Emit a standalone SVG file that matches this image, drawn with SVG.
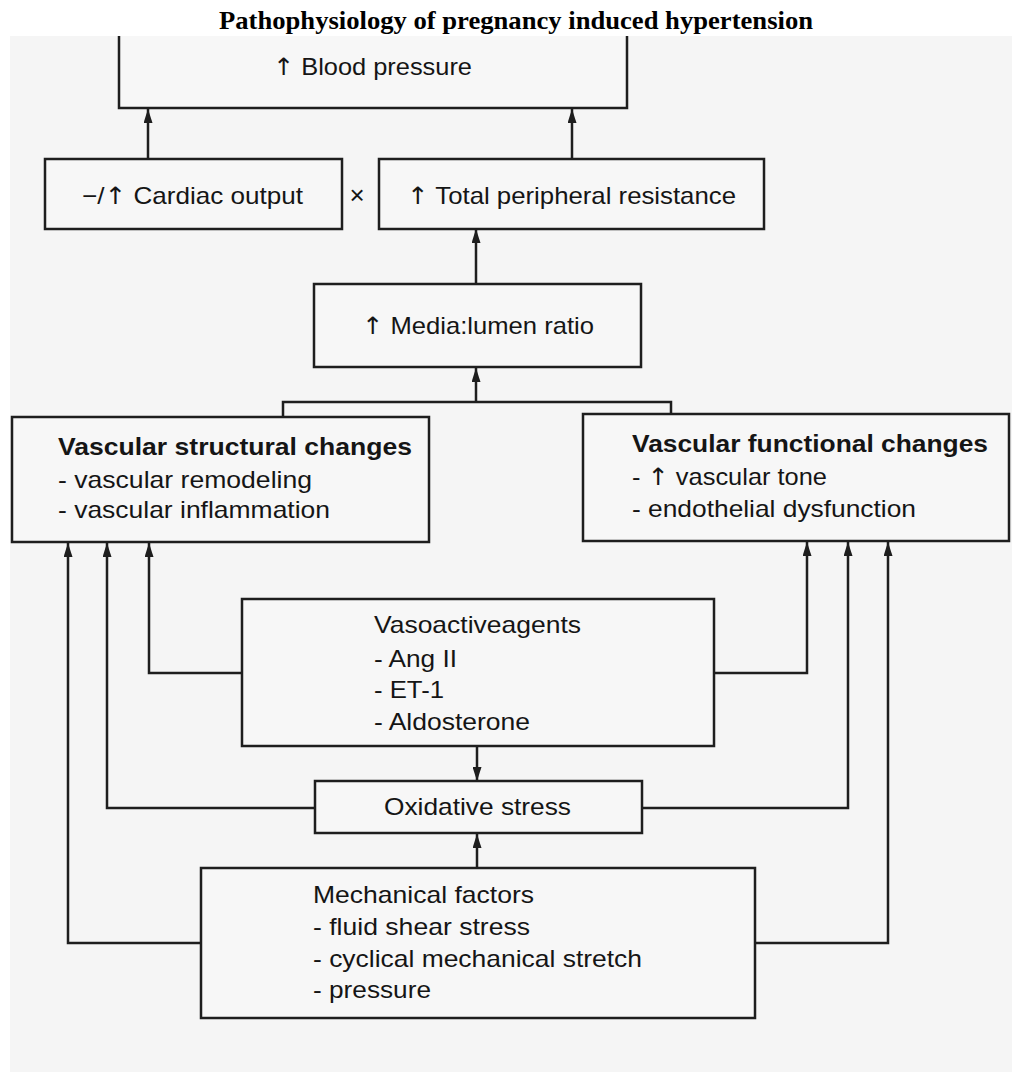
<svg xmlns="http://www.w3.org/2000/svg" width="1012" height="1072" viewBox="0 0 1012 1072">
<style>
.box{fill:#f7f7f7;stroke:#1e1e1e;stroke-width:2.5}
.ln{fill:none;stroke:#1e1e1e;stroke-width:2.5}
.t{font-family:"Liberation Sans",Arial,sans-serif;font-size:24px;fill:#151515}
.b{font-weight:bold}
.ar{font-family:"DejaVu Sans",sans-serif;font-weight:normal}
.title{font-family:"Liberation Serif","Times New Roman",serif;font-size:25px;font-weight:bold;fill:#000}
</style>
<defs>
<marker id="ah" viewBox="0 0 14 9" refX="14" refY="4.5" markerWidth="14" markerHeight="9" markerUnits="userSpaceOnUse" orient="auto">
<path d="M0,0 L14,4.5 L0,9 z" fill="#1e1e1e"/>
</marker>
</defs>
<rect x="0" y="0" width="1012" height="1072" fill="#ffffff"/>
<rect x="10" y="36" width="1002" height="1036" fill="#f5f5f5"/>
<text class="title" x="219" y="29" textLength="594" lengthAdjust="spacingAndGlyphs">Pathophysiology of pregnancy induced hypertension</text>

<g id="connectors">
<path class="ln" d="M148,159 V109" marker-end="url(#ah)"/>
<path class="ln" d="M572,159 V109" marker-end="url(#ah)"/>
<path class="ln" d="M476,284 V229" marker-end="url(#ah)"/>
<path class="ln" d="M283,417 V402 H671 V414"/>
<path class="ln" d="M476,402 V368" marker-end="url(#ah)"/>
<path class="ln" d="M242,673 H149 V543" marker-end="url(#ah)"/>
<path class="ln" d="M714,673 H807 V542" marker-end="url(#ah)"/>
<path class="ln" d="M315,808 H107 V543" marker-end="url(#ah)"/>
<path class="ln" d="M642,808 H848 V542" marker-end="url(#ah)"/>
<path class="ln" d="M201,943 H68 V543" marker-end="url(#ah)"/>
<path class="ln" d="M755,943 H888 V542" marker-end="url(#ah)"/>
<path class="ln" d="M477,746 V781" marker-end="url(#ah)"/>
<path class="ln" d="M477,868 V834" marker-end="url(#ah)"/>
</g>

<g id="blood-pressure">
<path class="box" d="M119,36 V108 H627 V36"/>
<text class="t" x="273" y="75" textLength="199" lengthAdjust="spacingAndGlyphs"><tspan class="ar">↑</tspan> Blood pressure</text>
</g>
<g id="cardiac-output">
<rect class="box" x="45" y="159" width="297" height="70"/>
<text class="t" x="82" y="204" textLength="221" lengthAdjust="spacingAndGlyphs">−/<tspan class="ar">↑</tspan> Cardiac output</text>
</g>
<g id="times-sign">
<text class="t" x="357" y="204" text-anchor="middle" style="font-size:26px">×</text>
</g>
<g id="peripheral-resistance">
<rect class="box" x="379" y="159" width="385" height="70"/>
<text class="t" x="407" y="204" textLength="329" lengthAdjust="spacingAndGlyphs"><tspan class="ar">↑</tspan> Total peripheral resistance</text>
</g>
<g id="media-lumen">
<rect class="box" x="314" y="284" width="327" height="83"/>
<text class="t" x="362" y="334" textLength="232" lengthAdjust="spacingAndGlyphs"><tspan class="ar">↑</tspan> Media:lumen ratio</text>
</g>
<g id="structural">
<rect class="box" x="12" y="417" width="417" height="125"/>
<text class="t b" x="58" y="455" textLength="354" lengthAdjust="spacingAndGlyphs">Vascular structural changes</text>
<text class="t" x="58" y="488" textLength="254" lengthAdjust="spacingAndGlyphs">- vascular remodeling</text>
<text class="t" x="58" y="518" textLength="272" lengthAdjust="spacingAndGlyphs">- vascular inflammation</text>
</g>
<g id="functional">
<rect class="box" x="583" y="414" width="426" height="127"/>
<text class="t b" x="632" y="452" textLength="356" lengthAdjust="spacingAndGlyphs">Vascular functional changes</text>
<text class="t" x="632" y="485" textLength="195" lengthAdjust="spacingAndGlyphs">- <tspan class="ar">↑</tspan> vascular tone</text>
<text class="t" x="632" y="517" textLength="284" lengthAdjust="spacingAndGlyphs">- endothelial dysfunction</text>
</g>
<g id="vasoactive">
<rect class="box" x="242" y="599" width="472" height="147"/>
<text class="t" x="374" y="633" textLength="207" lengthAdjust="spacingAndGlyphs">Vasoactiveagents</text>
<text class="t" x="374" y="667" textLength="83" lengthAdjust="spacingAndGlyphs">- Ang II</text>
<text class="t" x="374" y="698" textLength="70" lengthAdjust="spacingAndGlyphs">- ET-1</text>
<text class="t" x="374" y="730" textLength="156" lengthAdjust="spacingAndGlyphs">- Aldosterone</text>
</g>
<g id="oxidative">
<rect class="box" x="315" y="781" width="327" height="52"/>
<text class="t" x="384" y="815" textLength="187" lengthAdjust="spacingAndGlyphs">Oxidative stress</text>
</g>
<g id="mechanical">
<rect class="box" x="201" y="868" width="554" height="150"/>
<text class="t" x="313" y="903" textLength="221" lengthAdjust="spacingAndGlyphs">Mechanical factors</text>
<text class="t" x="313" y="935" textLength="217" lengthAdjust="spacingAndGlyphs">- fluid shear stress</text>
<text class="t" x="313" y="967" textLength="329" lengthAdjust="spacingAndGlyphs">- cyclical mechanical stretch</text>
<text class="t" x="313" y="998" textLength="118" lengthAdjust="spacingAndGlyphs">- pressure</text>
</g>
</svg>
